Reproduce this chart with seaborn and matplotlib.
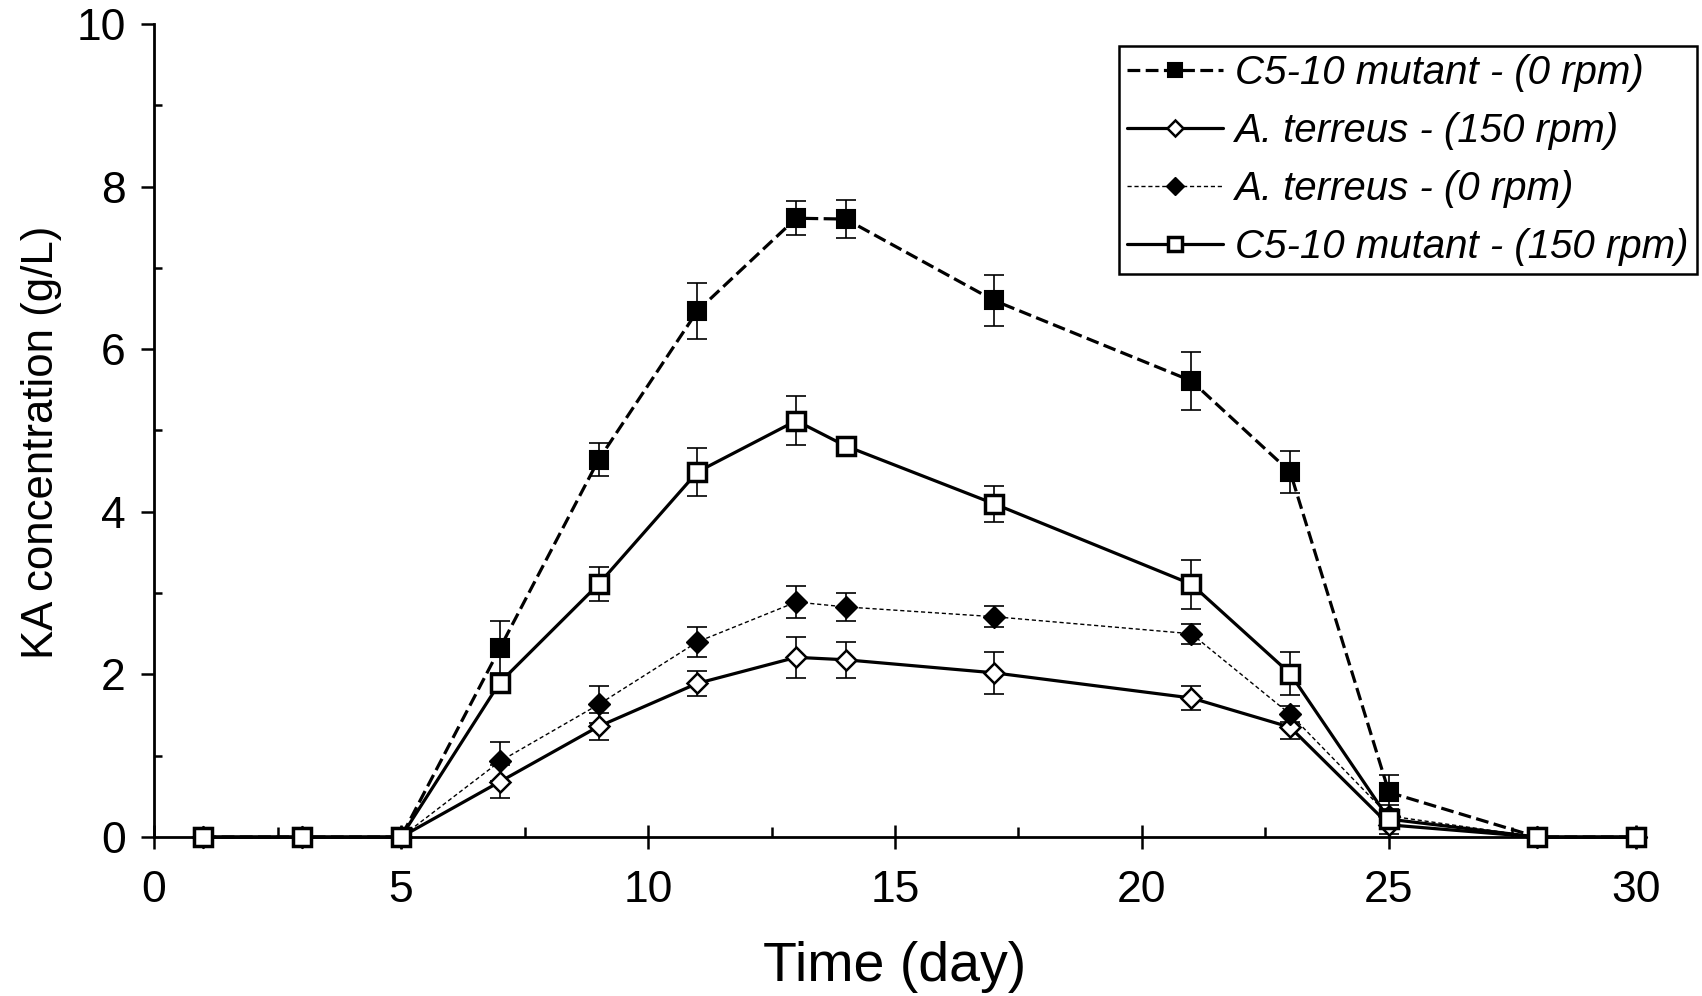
import numpy as np
import pandas as pd
import matplotlib
matplotlib.use('Agg')
import matplotlib.pyplot as plt
from matplotlib import font_manager
from matplotlib.ticker import MultipleLocator
import seaborn as sns

# dados
dias = [1, 3, 5, 7, 9, 11, 13, 14, 17, 21, 23, 25, 28, 30]

mutante_0rpm = [0, 0, 0, 2.32, 4.64, 6.47, 7.61, 7.60, 6.60, 5.61, 4.49, 0.55, 0, 0]
mutante_0rpm_err = [0, 0, 0, 0.34, 0.20, 0.34, 0.21, 0.23, 0.31, 0.36, 0.26, 0.21, 0, 0]

terreus_150rpm = [0, 0, 0, 0.68, 1.36, 1.89, 2.21, 2.18, 2.02, 1.71, 1.35, 0.15, 0, 0]
terreus_150rpm_err = [0, 0, 0, 0.20, 0.17, 0.15, 0.25, 0.22, 0.26, 0.15, 0.15, 0.05, 0, 0]

terreus_0rpm = [0, 0, 0, 0.93, 1.63, 2.40, 2.89, 2.83, 2.71, 2.50, 1.51, 0.26, 0, 0]
terreus_0rpm_err = [0, 0, 0, 0.24, 0.23, 0.18, 0.20, 0.17, 0.13, 0.12, 0.10, 0.05, 0, 0]

mutante_150rpm = [0, 0, 0, 1.90, 3.11, 4.49, 5.12, 4.81, 4.10, 3.11, 2.01, 0.22, 0, 0]
mutante_150rpm_err = [0, 0, 0, 0.12, 0.21, 0.29, 0.30, 0.05, 0.22, 0.30, 0.26, 0.18, 0, 0]

rotulos = ['C5-10 mutant - (0 rpm)', 'A. terreus - (150 rpm)',
           'A. terreus - (0 rpm)', 'C5-10 mutant - (150 rpm)']

series = [
    (rotulos[0], mutante_0rpm, mutante_0rpm_err),
    (rotulos[1], terreus_150rpm, terreus_150rpm_err),
    (rotulos[2], terreus_0rpm, terreus_0rpm_err),
    (rotulos[3], mutante_150rpm, mutante_150rpm_err),
]

base = pd.concat([pd.DataFrame({'dia': dias, 'ka': v, 'err': e, 'serie': nome})
                  for nome, v, e in series], ignore_index=True)

sns.set_style('white')
nomes = {f.name for f in font_manager.fontManager.ttflist}
fonte = 'Liberation Sans' if 'Liberation Sans' in nomes else 'DejaVu Sans'
plt.rcParams['font.family'] = [fonte, 'DejaVu Sans']
# tudo em preto, como no original
for chave in ['text.color', 'axes.labelcolor', 'xtick.color', 'ytick.color', 'axes.edgecolor']:
    plt.rcParams[chave] = 'black'

# estilo de cada curva
estilos = {
    rotulos[0]: dict(linestyle=(0, (4, 1.7)), lw=2.3, marker='s', ms=13, mfc='black', mec='black', mew=1.5),
    rotulos[1]: dict(linestyle='-', lw=2.3, marker='D', ms=10.5, mfc='white', mec='black', mew=1.8),
    rotulos[2]: dict(linestyle=(0, (3, 2)), lw=1.0, marker='D', ms=11, mfc='black', mec='black', mew=1.0),
    rotulos[3]: dict(linestyle='-', lw=2.3, marker='s', ms=13, mfc='white', mec='black', mew=2.5),
}

fig = plt.figure(figsize=(17.02, 9.96), dpi=100)
ax = fig.add_axes([0.0905, 0.1596, 0.9612 - 0.0905, 0.976 - 0.1596])

for nome, v, e in series:
    dados = base[base['serie'] == nome]
    com_erro = dados[dados['err'] > 0]
    ax.errorbar(com_erro['dia'], com_erro['ka'], yerr=com_erro['err'], fmt='none',
                ecolor='black', elinewidth=1.2, capsize=7, capthick=1.2, zorder=2.8)
    sns.lineplot(data=dados, x='dia', y='ka', ax=ax, color='black', label=nome,
                 errorbar=None, clip_on=False, zorder=3, **estilos[nome])

ax.set_xlim(0, 30)
ax.set_ylim(0, 10)
ax.xaxis.set_major_locator(MultipleLocator(5))
ax.xaxis.set_minor_locator(MultipleLocator(2.5))
ax.yaxis.set_major_locator(MultipleLocator(2))
ax.yaxis.set_minor_locator(MultipleLocator(1))

sns.despine(ax=ax)
for lado in ['left', 'bottom']:
    ax.spines[lado].set_linewidth(2)
    ax.spines[lado].set_color('black')

ax.tick_params(axis='x', which='major', direction='inout', length=17, width=1.8,
               pad=15, labelsize=32, bottom=True, colors='black')
ax.tick_params(axis='x', which='minor', direction='in', length=7, width=1.8, bottom=True, colors='black')
ax.tick_params(axis='y', which='major', direction='out', length=9.5, width=1.8,
               pad=11, labelsize=32, left=True, colors='black')
ax.tick_params(axis='y', which='minor', direction='in', length=6, width=1.8, left=True, colors='black')

ax.set_xlabel('Time (day)', fontsize=40, color='black')
ax.xaxis.set_label_coords(0.5, -0.128)
ax.set_ylabel('KA concentration (g/L)', fontsize=31.5, color='black')
ax.yaxis.set_label_coords(-0.062, 0.486)

leg = ax.legend(loc='upper right', bbox_to_anchor=(0.997, 0.954), bbox_transform=fig.transFigure,
                borderaxespad=0, prop={'style': 'italic', 'size': 29}, numpoints=1,
                markerscale=0.8, handlelength=2.4, handletextpad=0.3, borderpad=0.2,
                labelspacing=0.5, fancybox=False, framealpha=1, edgecolor='black')
leg.get_frame().set_linewidth(1.8)
for t in leg.get_texts():
    t.set_color('black')

fig.savefig('out.png', dpi=100)
